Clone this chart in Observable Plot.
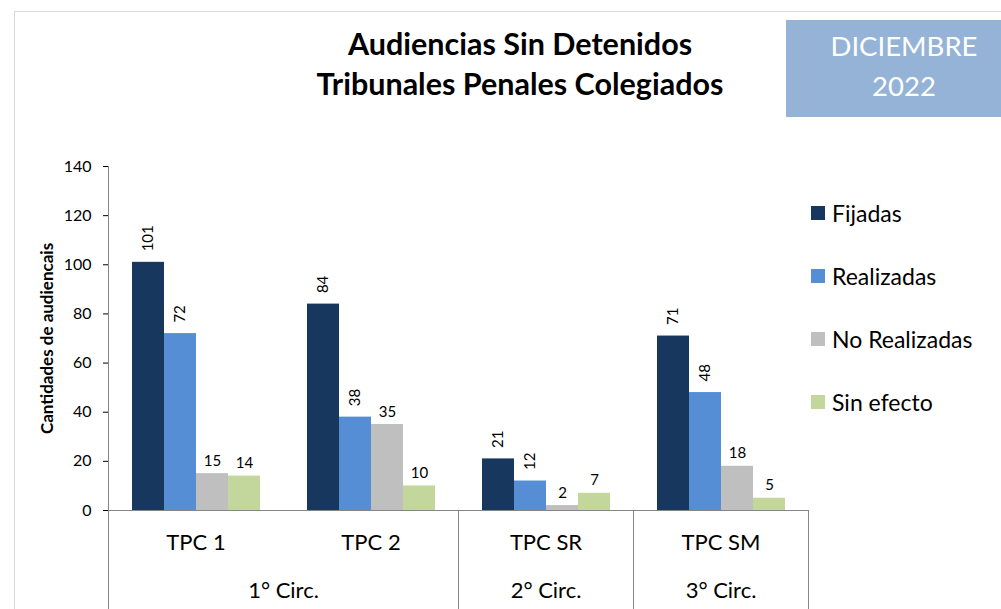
<!DOCTYPE html>
<html>
<head>
<meta charset="utf-8">
<script src="https://cdn.jsdelivr.net/npm/d3@7"></script>
<script src="https://cdn.jsdelivr.net/npm/@observablehq/plot@0.6"></script>
<style>
html, body { margin: 0; padding: 0; background: #fff; }
#wrap { position: relative; width: 1001px; height: 609px; overflow: hidden; font-family: Lato, sans-serif; color: #000; }
#frame { position: absolute; left: 14px; top: 11px; width: 1000px; height: 700px; border-top: 1px solid #d9d9d9; border-left: 1px solid #d9d9d9; }
#chart { position: absolute; left: 0; top: 0; }
#title { position: absolute; left: 270px; width: 500px; top: 23px; text-align: center; font-weight: 700; font-size: 30.5px; line-height: 40px; }
#badge { position: absolute; left: 786px; top: 20px; width: 236px; height: 97px; background: #95b3d7; color: #fff; text-align: center; font-size: 27.5px; line-height: 40px; box-sizing: border-box; padding-top: 6px; }
#legend { position: absolute; left: 811px; top: 0; }
.item { position: absolute; left: 0; height: 24px; display: flex; align-items: center; white-space: nowrap; font-size: 23px; }
.sw { width: 14px; height: 14px; margin-right: 7px; flex: none; }
g[aria-label="y-axis label"] text, g[aria-label="y-axis label"] { font-weight: 700; font-size: 17px; }
</style>
</head>
<body>
<div id="wrap">
  <div id="frame"></div>
  <div id="chart"></div>
  <div id="title"></div>
  <div id="badge"></div>
  <div id="legend"></div>
</div>
<script>
// ---- data ----
const titleLines = ["Audiencias Sin Detenidos", "Tribunales Penales Colegiados"];
const badgeLines = ["DICIEMBRE", "2022"];
const yTitle = "Cantidades de audiencais";
const courts = ["TPC 1", "TPC 2", "TPC SR", "TPC SM"];
const courtCircuits = ["1° Circ.", "1° Circ.", "2° Circ.", "3° Circ."];
const series = ["Fijadas", "Realizadas", "No Realizadas", "Sin efecto"];
const fijadas = [101, 84, 21, 71];
const realizadas = [72, 38, 12, 48];
const noRealizadas = [15, 35, 2, 18];
const sinEfecto = [14, 10, 7, 5];
const yTicks = [0, 20, 40, 60, 80, 100, 120, 140];
const colors = ["#17375e", "#558ed5", "#bfbfbf", "#c3d69b"];
const rotatedSeries = ["Fijadas", "Realizadas"];

// ---- tables ----
const seriesValues = [fijadas, realizadas, noRealizadas, sinEfecto];
const data = courts.flatMap((c, i) => series.map((s, j) => ({court: c, series: s, value: seriesValues[j][i]})));
const circuits = [];
courts.forEach((c, i) => {
  const name = courtCircuits[i];
  let g = circuits.find(d => d.label === name);
  if (!g) { g = {label: name, courts: []}; circuits.push(g); }
  g.courts.push(c);
});
const evenCirc = circuits.filter(d => d.courts.length % 2 === 0).map(d => ({label: d.label, court: d.courts[d.courts.length / 2 - 1]}));
const oddCirc = circuits.filter(d => d.courts.length % 2 === 1).map(d => ({label: d.label, court: d.courts[(d.courts.length - 1) / 2]}));

// ---- html parts ----
document.getElementById("title").innerHTML = titleLines.map(t => `<div>${t}</div>`).join("");
document.getElementById("badge").innerHTML = badgeLines.map(t => `<div>${t}</div>`).join("");
const legend = document.getElementById("legend");
series.forEach((s, i) => {
  const it = document.createElement("div");
  it.className = "item";
  it.style.top = (201 + i * 63) + "px";
  it.innerHTML = `<span class="sw" style="background:${colors[i]}"></span><span>${s}</span>`;
  legend.appendChild(it);
});

// ---- chart ----
const chart = Plot.plot({
  width: 1001,
  height: 609,
  marginTop: 166,
  marginBottom: 99,
  marginLeft: 108,
  marginRight: 193,
  style: {fontFamily: "Lato, sans-serif", background: "transparent", color: "#000", overflow: "visible"},
  fx: {domain: courts, padding: 0, axis: null},
  x: {domain: series, paddingInner: 0, paddingOuter: 0.734, axis: null},
  y: {domain: [0, 140]},
  color: {domain: series, range: colors},
  marks: [
    Plot.barY(data, {fx: "court", x: "series", y: "value", fill: "series"}),
    Plot.ruleY([0], {stroke: "#868686", strokeWidth: 1}),
    Plot.axisY({ticks: yTicks, tickSize: 5, tickPadding: 12, fontSize: 16, label: yTitle, labelAnchor: "center", labelOffset: 68, labelArrow: "none"}),
    Plot.text(data.filter(d => rotatedSeries.includes(d.series)), {
      fx: "court", x: "series", y: "value", text: d => String(d.value),
      rotate: -90, textAnchor: "start", lineAnchor: "middle", dy: -11, fontSize: 15, fill: "#000"
    }),
    Plot.text(data.filter(d => !rotatedSeries.includes(d.series)), {
      fx: "court", x: "series", y: "value", text: d => String(d.value),
      lineAnchor: "bottom", dy: -8, fontSize: 15, fill: "#000"
    }),
    Plot.text(courts, {fx: d => d, text: d => d, frameAnchor: "bottom", lineAnchor: "middle", dy: 32, fontSize: 22, fill: "#000"}),
    Plot.text(evenCirc, {fx: "court", text: "label", frameAnchor: "bottom-right", textAnchor: "middle", lineAnchor: "middle", dy: 80, fontSize: 22, fill: "#000"}),
    Plot.text(oddCirc, {fx: "court", text: "label", frameAnchor: "bottom", textAnchor: "middle", lineAnchor: "middle", dy: 80, fontSize: 22, fill: "#000"})
  ]
});
document.getElementById("chart").appendChild(chart);

// grey tick marks
d3.select(chart).selectAll('g[aria-label="y-axis tick"]').attr("stroke", "#868686");

// separators from the fx / y scales
const fx = chart.scale("fx");
const ys = chart.scale("y");
const bw = fx.bandwidth;
const bounds = [];
circuits.forEach((c, k) => bounds.push({x: fx.apply(c.courts[0]), top: k === 0 ? ys.apply(140) : ys.apply(0)}));
bounds.push({x: fx.apply(courts[courts.length - 1]) + bw, top: ys.apply(0)});
d3.select(chart).append("g").attr("stroke", "#868686").attr("stroke-width", 1)
  .selectAll("line").data(bounds).join("line")
  .attr("x1", d => Math.round(d.x) + 0.5).attr("x2", d => Math.round(d.x) + 0.5)
  .attr("y1", d => d.top).attr("y2", 609);
</script>
</body>
</html>
